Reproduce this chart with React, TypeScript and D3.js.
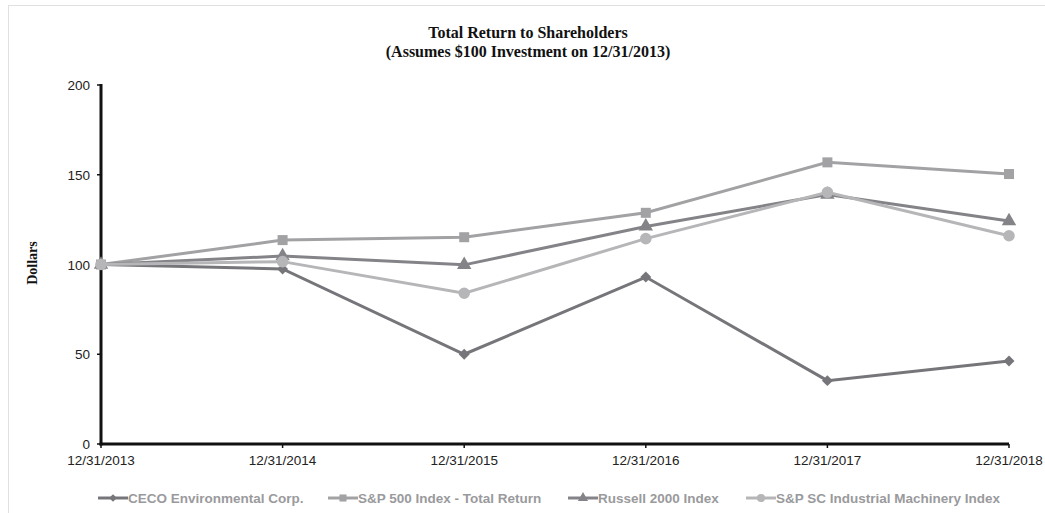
import React from 'react'
import * as d3 from 'd3'

const years = ['12/31/2013', '12/31/2014', '12/31/2015', '12/31/2016', '12/31/2017', '12/31/2018']
const ceco = [100, 97.5, 50, 93, 35.3, 46.2]
const sp500 = [100, 113.6, 115.2, 128.8, 156.9, 150.4]
const russell = [100, 104.7, 99.8, 121.2, 139, 124.2]
const scIndustrial = [100, 101.6, 84, 114.4, 140.2, 116]
const yTicks = [0, 50, 100, 150, 200]

type Series = { name: string; values: number[]; color: string; symbol: d3.SymbolType; size: number; rotate: number }

const series: Series[] = [
  { name: 'CECO Environmental Corp.', values: ceco, color: '#76767a', symbol: d3.symbolSquare, size: 60, rotate: 45 },
  { name: 'S&P 500 Index - Total Return', values: sp500, color: '#a2a2a5', symbol: d3.symbolSquare, size: 100, rotate: 0 },
  { name: 'Russell 2000 Index', values: russell, color: '#848488', symbol: d3.symbolTriangle, size: 90, rotate: 0 },
  { name: 'S&P SC Industrial Machinery Index', values: scIndustrial, color: '#b6b6b9', symbol: d3.symbolCircle, size: 105, rotate: 0 }
]

const legendX = [98, 328, 568, 746]

const App: React.FC = () => {
  const width = 1045
  const height = 513
  const x = d3.scalePoint<string>().domain(years).range([101, 1009])
  const y = d3.scaleLinear().domain([0, 200]).range([444, 85])

  const line = d3.line<number>()
    .x((_, i) => x(years[i]) ?? 0)
    .y(d => y(d))

  const serif = 'Liberation Serif, Times New Roman, serif'
  const sans = 'Liberation Sans, Arial, sans-serif'

  return (
    <svg width={width} height={height} style={{ position: 'absolute', left: 0, top: 0 }}>
      <rect x={0} y={0} width={width} height={height} fill="#fff" />
      <line x1={8} y1={5.5} x2={width} y2={5.5} stroke="#e0e0e0" strokeWidth={1} />
      <line x1={8.5} y1={5} x2={8.5} y2={height} stroke="#e0e0e0" strokeWidth={1} />

      {/* title */}
      <text x={528} y={38} textAnchor="middle" fontFamily={serif}
        fontWeight="bold" fontSize={16} fill="#111">Total Return to Shareholders</text>
      <text x={528} y={56.5} textAnchor="middle" fontFamily={serif}
        fontWeight="bold" fontSize={16} fill="#111">(Assumes $100 Investment on 12/31/2013)</text>

      {/* y label */}
      <text transform="translate(37,263) rotate(-90)" textAnchor="middle"
        fontFamily={serif} fontWeight="bold" fontSize={14} fill="#111">Dollars</text>

      {/* y ticks */}
      {yTicks.map(t => (
        <g key={t}>
          <line x1={97} x2={101} y1={y(t)} y2={y(t)} stroke="#111" strokeWidth={1.5} />
          <text x={90} y={y(t) + 5} textAnchor="end" fontFamily={sans}
            fontSize={13.5} fill="#222">{t}</text>
        </g>
      ))}

      {/* x ticks */}
      {years.map(yr => (
        <g key={yr}>
          <line x1={x(yr)} x2={x(yr)} y1={444} y2={448} stroke="#111" strokeWidth={1.5} />
          <text x={x(yr)} y={465} textAnchor="middle" fontFamily={sans}
            fontSize={13.5} fill="#222">{yr}</text>
        </g>
      ))}

      {/* axes */}
      <line x1={101} x2={101} y1={84} y2={445.5} stroke="#111" strokeWidth={3} />
      <line x1={99.5} x2={1009} y1={444} y2={444} stroke="#111" strokeWidth={3} />

      {/* series */}
      {series.map(s => (
        <g key={s.name}>
          <path d={line(s.values) ?? ''} fill="none" stroke={s.color} strokeWidth={3} />
          {s.values.map((v, i) => (
            <path key={i} d={d3.symbol().type(s.symbol).size(s.size)() ?? ''}
              transform={`translate(${x(years[i])},${y(v)}) rotate(${s.rotate})`} fill={s.color} />
          ))}
        </g>
      ))}

      {/* legend */}
      {series.map((s, i) => (
        <g key={s.name} transform={`translate(${legendX[i]},498)`}>
          <line x1={0} x2={30} y1={0} y2={0} stroke={s.color} strokeWidth={3} />
          <path d={d3.symbol().type(s.symbol).size(s.size * 0.5)() ?? ''}
            transform={`translate(15,0) rotate(${s.rotate})`} fill={s.color} />
          <text x={30} y={5} fontFamily={sans} fontWeight="bold"
            fontSize={13.5} fill="#9a9a9d">{s.name}</text>
        </g>
      ))}
    </svg>
  )
}

export default App
